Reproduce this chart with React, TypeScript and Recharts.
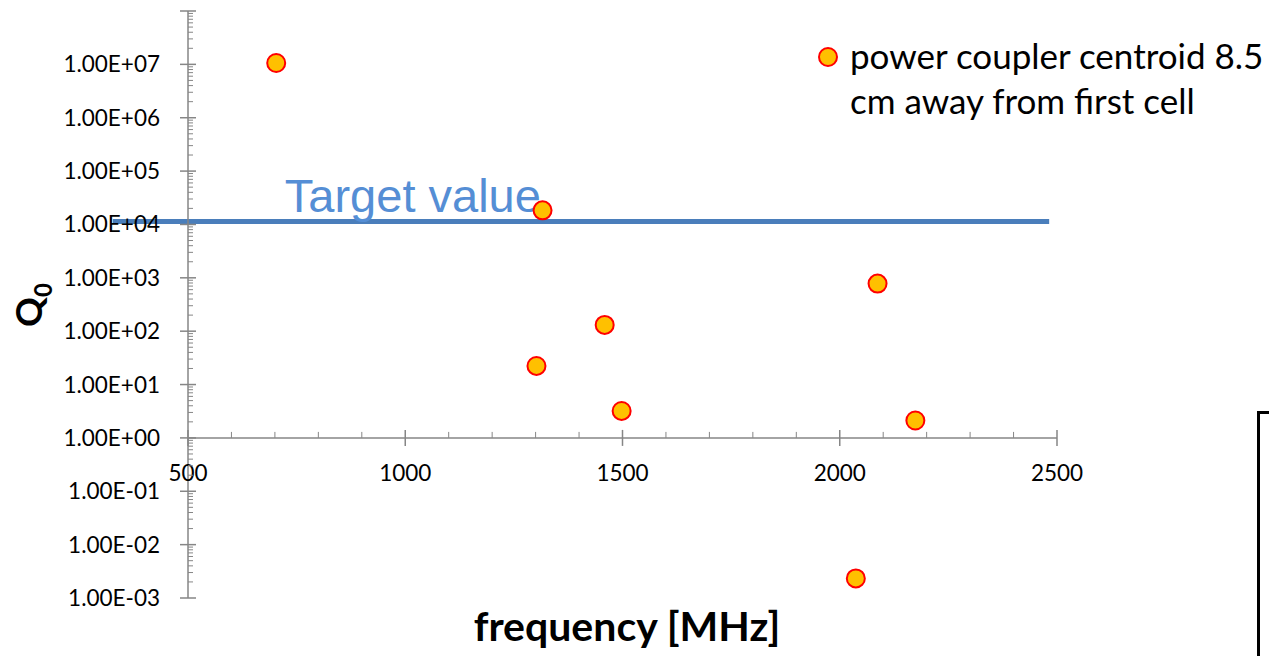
import React from 'react';
import { ComposedChart, Scatter, XAxis, YAxis, ReferenceLine } from 'recharts';

// measured frequencies [MHz] and Q0 values
const frequency = [703, 1316, 1302, 1459, 1498, 2087, 2174, 2037];
const q0 = [1.06e7, 1.84e4, 22.3, 131, 3.2, 779, 2.12, 0.00233];

const xMajorTicks = [500, 1000, 1500, 2000, 2500];
const yDecades = [-3, -2, -1, 0, 1, 2, 3, 4, 5, 6, 7, 8];

const targetQ = 11400;
const targetFrom = 327;
const targetTo = 2482;

const seriesName = 'power coupler centroid 8.5 cm away from first cell';

const data = frequency.map((f, i) => ({ f, q: q0[i] }));

const W = 1269;
const H = 656;
const MT = 11;
const MR = 212;
const YW = 188;
const XH = 58;
const PLOT_H = H - MT - XH;
const DECADE = PLOT_H / (yDecades.length - 1);
const Y_ONE = MT + DECADE * (yDecades[yDecades.length - 1] - 0);

const AXIS = '#868686';
const FONT = 'Lato, "Noto Sans", sans-serif';

// x: every 100 MHz minor, labels on majors
const xTicks: number[] = [];
for (let v = xMajorTicks[0]; v <= xMajorTicks[xMajorTicks.length - 1]; v += 100) xTicks.push(v);

// y: log ticks 1..9 inside each decade
const yTicks: number[] = [];
yDecades.forEach((e, i) => {
  const last = i === yDecades.length - 1;
  for (let k = 1; k <= (last ? 1 : 9); k++) yTicks.push(Number((k * Math.pow(10, e)).toPrecision(3)));
});

const fmtExp = (v: number) => {
  const e = Math.round(Math.log10(v));
  return `1.00E${e < 0 ? '-' : '+'}${String(Math.abs(e)).padStart(2, '0')}`;
};

const isDecade = (v: number) => Math.abs(Math.log10(v) - Math.round(Math.log10(v))) < 1e-6;

const YTick = (props: any) => {
  const { x, y, payload } = props;
  const v = payload.value;
  if (isDecade(v)) {
    const e = Math.round(Math.log10(v));
    return (
      <g>
        <line x1={x - 8} x2={x + 8} y1={y} y2={y} stroke={AXIS} strokeWidth={1.5} />
        {e < yDecades[yDecades.length - 1] && (
          <text x={x - 28} y={y + 8} textAnchor="end" fontFamily={FONT} fontSize={22.5} fill="#000">
            {fmtExp(v)}
          </text>
        )}
      </g>
    );
  }
  return <line x1={x} x2={x + 5} y1={y} y2={y} stroke={AXIS} strokeWidth={1} />;
};

const XTick = (props: any) => {
  const { x, payload } = props;
  const v = payload.value;
  if (xMajorTicks.includes(v)) {
    return (
      <g>
        <line x1={x} x2={x} y1={Y_ONE - 8} y2={Y_ONE + 8} stroke={AXIS} strokeWidth={1.5} />
        <text x={x} y={Y_ONE + 43} textAnchor="middle" fontFamily={FONT} fontSize={22.5} fill="#000">
          {v}
        </text>
      </g>
    );
  }
  return <line x1={x} x2={x} y1={Y_ONE - 6} y2={Y_ONE} stroke={AXIS} strokeWidth={1} />;
};

const Dot = (props: any) => (
  <circle cx={props.cx} cy={props.cy} r={9} fill="#FFC000" stroke="#FF0000" strokeWidth={2} />
);

const YTitle = () => (
  <text
    x={42}
    y={305}
    transform="rotate(-90, 42, 305)"
    textAnchor="middle"
    fontFamily={FONT}
    fontWeight="bold"
    fontSize={37}
    fill="#000"
  >
    Q<tspan fontSize={24} dy={10}>0</tspan>
  </text>
);

const XTitle = () => (
  <text x={627} y={641} textAnchor="middle" fontFamily={FONT} fontWeight="bold" fontSize={41} fill="#000">
    frequency [MHz]
  </text>
);

const TargetLabel = (props: any) => {
  const vb = props.viewBox || {};
  return (
    <text x={vb.x + 172} y={vb.y - 9} fontFamily='"Liberation Sans", Arial, sans-serif' fontSize={47} fill="#558ED5">
      Target value
    </text>
  );
};

export default function App() {
  return (
    <div style={{ position: 'relative', width: W, height: H, background: '#fff', overflow: 'hidden' }}>
      <style>{'body{margin:0}'}</style>
      <ComposedChart width={W} height={H} data={data} margin={{ top: MT, right: MR, bottom: 0, left: 0 }}>
        <XAxis
          dataKey="f"
          type="number"
          domain={[xMajorTicks[0], xMajorTicks[xMajorTicks.length - 1]]}
          ticks={xTicks}
          interval={0}
          axisLine={false}
          tickLine={false}
          tickSize={0}
          tickMargin={0}
          height={XH}
          tick={<XTick />}
          label={<XTitle />}
        />
        <YAxis
          dataKey="q"
          type="number"
          scale="log"
          domain={[Math.pow(10, yDecades[0]), Math.pow(10, yDecades[yDecades.length - 1])]}
          allowDataOverflow
          ticks={yTicks}
          interval={0}
          axisLine={{ stroke: AXIS, strokeWidth: 1.5 }}
          tickLine={false}
          tickSize={0}
          tickMargin={0}
          width={YW}
          tick={<YTick />}
          label={<YTitle />}
        />
        <ReferenceLine y={1} stroke={AXIS} strokeWidth={1.5} />
        <ReferenceLine
          segment={[
            { x: targetFrom, y: targetQ },
            { x: targetTo, y: targetQ },
          ]}
          ifOverflow="visible"
          stroke="#4A7EBB"
          strokeWidth={5}
          label={<TargetLabel />}
        />
        <Scatter name={seriesName} dataKey="q" fill="#FFC000" shape={<Dot />} isAnimationActive={false} />
      </ComposedChart>
      <svg style={{ position: 'absolute', left: 815, top: 44 }} width={26} height={26}>
        <circle cx={13} cy={13} r={9} fill="#FFC000" stroke="#FF0000" strokeWidth={2} />
      </svg>
      <div
        style={{
          position: 'absolute',
          left: 850,
          top: 33,
          width: 430,
          fontFamily: FONT,
          fontSize: 35,
          lineHeight: '45px',
          color: '#000',
          whiteSpace: 'nowrap',
        }}
      >
        power coupler centroid 8.5
        <br />
        cm away from first cell
      </div>
      <div
        style={{
          position: 'absolute',
          left: 1257,
          top: 411,
          width: 40,
          height: 300,
          borderLeft: '3px solid #000',
          borderTop: '3px solid #000',
        }}
      />
    </div>
  );
}
